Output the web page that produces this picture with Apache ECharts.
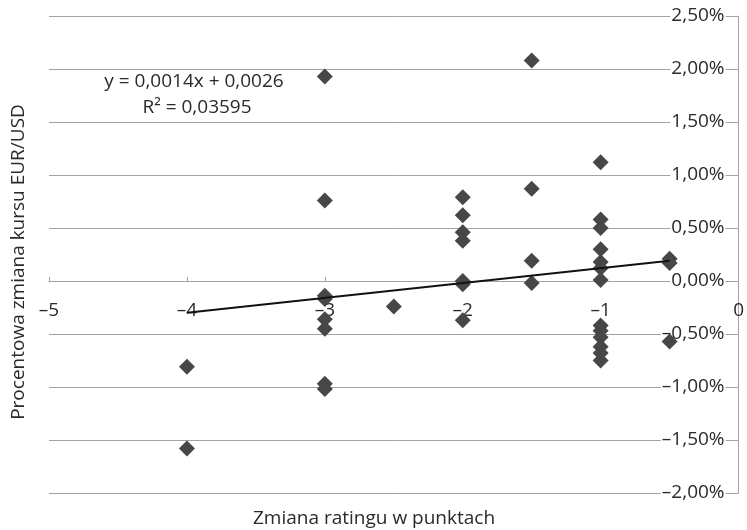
<!DOCTYPE html>
<html>
<head>
<meta charset="utf-8">
<script src="https://cdn.jsdelivr.net/npm/echarts@6/dist/echarts.min.js"></script>
<style>
  html, body { margin: 0; padding: 0; background: #fff; }
  #chart { width: 747px; height: 530px; }
</style>
</head>
<body>
<div id="chart"></div>
<script>
// zmiana ratingu (x) i procentowa zmiana kursu EUR/USD (y, w %)
const ratingChange = [
  -4, -4,
  -3, -3, -3, -3, -3, -3, -3, -3,
  -2.5,
  -2, -2, -2, -2, -2, -2, -2,
  -1.5, -1.5, -1.5, -1.5,
  -1, -1, -1, -1, -1, -1, -1, -1, -1, -1, -1, -1, -1,
  -0.5, -0.5, -0.5
];
const fxChange = [
  -0.81, -1.58,
  1.93, 0.76, -0.14, -0.17, -0.36, -0.45, -0.97, -1.02,
  -0.24,
  0.79, 0.62, 0.46, 0.38, 0.00, -0.03, -0.37,
  2.08, 0.87, 0.19, -0.02,
  1.12, 0.58, 0.50, 0.30, 0.18, 0.12, 0.01, -0.42, -0.47, -0.53, -0.62, -0.68, -0.75,
  0.21, 0.17, -0.57
];
// linia trendu (punkty końcowe)
const trendX = [-4, -0.5];
const trendY = [-0.30, 0.19];

const equationText = 'y = 0,0014x + 0,0026';
const r2Text = 'R² = 0,03595';
const xTitle = 'Zmiana ratingu w punktach';
const yTitle = 'Procentowa zmiana kursu EUR/USD';

const font = '"Open Sans", sans-serif';
const gridColor = '#a3a3a3';
const textColor = '#2a2a2a';

const yMin = -2, yMax = 2.5;
const gridTop = 16, gridBottom = 37, chartH = 530;
// przesunięcie osi X na poziom 0% (oś leży na zerze osi Y)
const zeroOffset = -(chartH - gridTop - gridBottom) * (0 - yMin) / (yMax - yMin);

const chart = echarts.init(document.getElementById('chart'));

const option = {
  animation: false,
  grid: { left: 49, right: 3, top: gridTop, bottom: gridBottom, containLabel: false },
  xAxis: {
    type: 'value',
    min: -5,
    max: 0,
    interval: 1,
    offset: zeroOffset,
    axisLine: { show: true, onZero: false, lineStyle: { color: gridColor, width: 1 } },
    axisTick: { show: true, inside: true, length: 4, lineStyle: { color: gridColor } },
    splitLine: { show: false },
    axisLabel: {
      margin: 20,
      fontFamily: font,
      fontSize: 19,
      color: textColor,
      formatter: v => (v < 0 ? '–' + Math.abs(v) : String(v))
    }
  },
  yAxis: {
    type: 'value',
    position: 'right',
    min: yMin,
    max: yMax,
    interval: 0.5,
    axisLine: { show: true, onZero: false, lineStyle: { color: gridColor, width: 1 } },
    axisTick: { show: false },
    splitLine: { show: true, lineStyle: { color: gridColor, width: 1 } },
    axisLabel: {
      inside: true,
      margin: 13,
      fontFamily: font,
      fontSize: 19,
      color: textColor,
      backgroundColor: '#fff',
      padding: [0, 1],
      formatter: v => (v < 0 ? '–' : '') + Math.abs(v).toFixed(2).replace('.', ',') + '%'
    }
  },
  series: [
    {
      type: 'scatter',
      symbol: 'diamond',
      symbolSize: [16, 16],
      itemStyle: { color: '#474747', opacity: 1 },
      data: ratingChange.map((x, i) => [x, fxChange[i]]),
      z: 2
    },
    {
      type: 'line',
      symbol: 'none',
      lineStyle: { color: '#111', width: 2 },
      data: trendX.map((x, i) => [x, trendY[i]]),
      z: 3
    }
  ],
  graphic: [
    {
      type: 'text',
      x: 194, y: 82,
      style: { text: equationText, font: '19px ' + font, fill: textColor, align: 'center', verticalAlign: 'middle' }
    },
    {
      type: 'text',
      x: 197, y: 108,
      style: { text: r2Text, font: '19px ' + font, fill: textColor, align: 'center', verticalAlign: 'middle' }
    },
    {
      type: 'text',
      x: 374, y: 519,
      style: { text: xTitle, font: '19px ' + font, fill: textColor, align: 'center', verticalAlign: 'middle' }
    },
    {
      type: 'text',
      x: 19, y: 262,
      rotation: Math.PI / 2,
      style: { text: yTitle, font: '19px ' + font, fill: textColor, align: 'center', verticalAlign: 'middle' }
    }
  ]
};

chart.setOption(option);
</script>
</body>
</html>
